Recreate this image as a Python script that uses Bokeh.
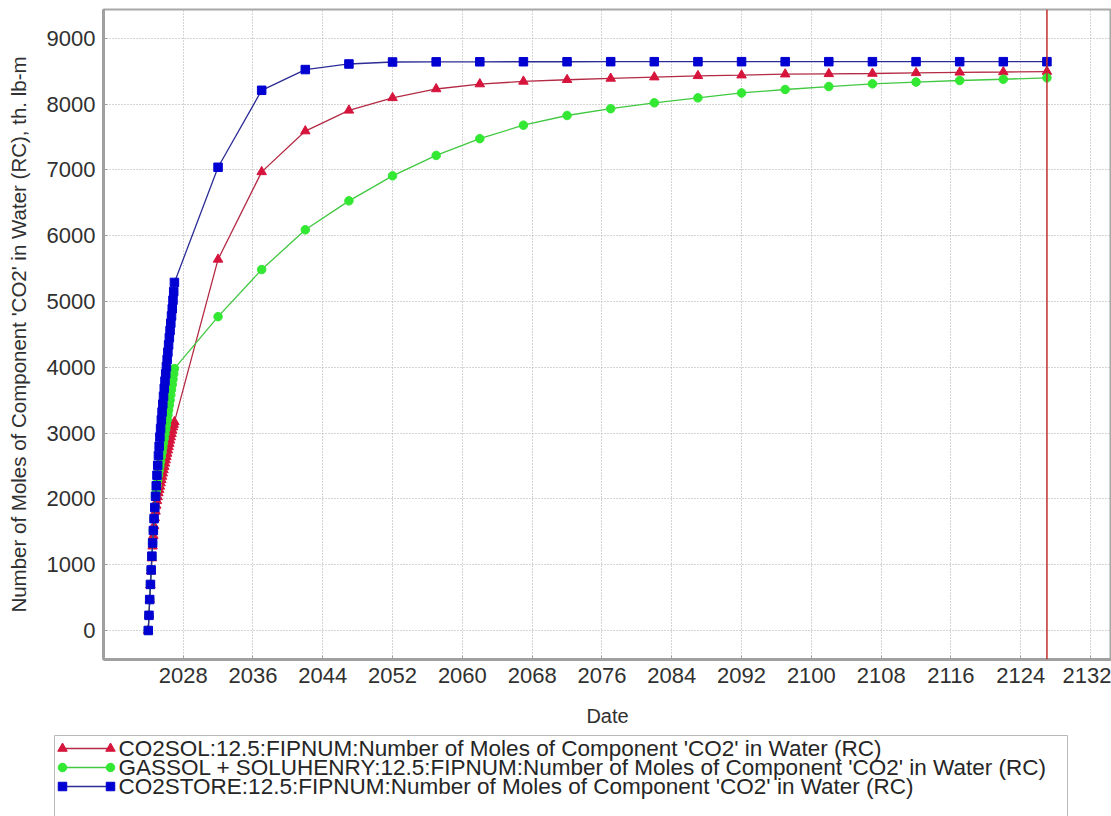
from bokeh.plotting import figure
from bokeh.models import Range1d, FixedTicker, Span
from bokeh.embed import file_html
from bokeh.resources import INLINE
from bokeh.core.properties import value

# ---------------------------------------------------------------------------
# Data: CO2 in water for FIPNUM region 12.5, thousand lb-mol (RC)
# Monthly report steps during injection (Jan 2024 .. Jan 2027),
# then one report every five years up to 2127.
# ---------------------------------------------------------------------------
months_early = list(range(37))
years_late = [2032, 2037, 2042, 2047, 2052, 2057, 2062, 2067, 2072, 2077,
              2082, 2087, 2092, 2097, 2102, 2107, 2112, 2117, 2122, 2127]

co2sol_early = [0, 230, 470, 690, 900, 1100, 1280, 1440, 1590, 1710, 1810,
                1900, 1970, 2030, 2090, 2140, 2190, 2240, 2290, 2340, 2390,
                2440, 2490, 2540, 2590, 2640, 2690, 2740, 2790, 2840, 2890,
                2940, 2990, 3040, 3090, 3130, 3170]
co2sol_late = [5640, 6970, 7590, 7905, 8095, 8230, 8305, 8345, 8370, 8390,
               8410, 8430, 8440, 8455, 8460, 8465, 8475, 8483, 8488, 8495]

gassol_early = [0, 230, 470, 700, 920, 1130, 1330, 1520, 1700, 1870, 2040,
                2120, 2200, 2280, 2360, 2430, 2500, 2570, 2640, 2710, 2780,
                2850, 2920, 2990, 3060, 3130, 3200, 3275, 3350, 3425, 3500,
                3580, 3660, 3740, 3820, 3900, 3980]
gassol_late = [4770, 5485, 6090, 6530, 6910, 7220, 7475, 7680, 7827, 7930,
               8020, 8095, 8170, 8222, 8267, 8308, 8335, 8359, 8378, 8400]

co2store_early = [0, 230, 470, 700, 920, 1130, 1330, 1520, 1700, 1870, 2040,
                  2200, 2360, 2510, 2660, 2800, 2940, 3070, 3200, 3320, 3440,
                  3560, 3680, 3790, 3900, 4010, 4120, 4230, 4340, 4450, 4560,
                  4670, 4780, 4890, 5020, 5150, 5290]
co2store_late = [7040, 8210, 8525, 8610, 8640, 8642, 8643, 8644, 8644, 8645,
                 8645, 8645, 8645, 8645, 8645, 8645, 8645, 8645, 8645, 8645]

series_names = [
    "CO2SOL:12.5:FIPNUM:Number of Moles of Component 'CO2' in Water (RC)",
    "GASSOL + SOLUHENRY:12.5:FIPNUM:Number of Moles of Component 'CO2' in Water (RC)",
    "CO2STORE:12.5:FIPNUM:Number of Moles of Component 'CO2' in Water (RC)",
]
x_ticks = [2028, 2036, 2044, 2052, 2060, 2068, 2076, 2084, 2092, 2100,
           2108, 2116, 2124, 2132]
y_ticks = [0, 1000, 2000, 3000, 4000, 5000, 6000, 7000, 8000, 9000]

# decimal-year time axis
dates = [2024 + m / 12 for m in months_early] + years_late
values = [co2sol_early + co2sol_late,
          gassol_early + gassol_late,
          co2store_early + co2store_late]

styles = [
    dict(marker="triangle", size=9.5, line="#b42a44", fill="#d6143c"),
    dict(marker="circle", size=8.5, line="#40c840", fill="#33e833"),
    dict(marker="square", size=8.5, line="#2c2c96", fill="#0000d2"),
]

FONT = "Liberation Sans"

p = figure(frame_width=1008, frame_height=650,
           x_range=Range1d(2018.87, 2134.4), y_range=Range1d(-441, 9438),
           output_backend="svg", toolbar_location=None,
           min_border_left=103, min_border_right=0,
           min_border_top=9, min_border_bottom=75)
p.background_fill_color = "white"
p.border_fill_color = "white"
p.outline_line_color = "#a8a8a8"
p.outline_line_width = 2

for ax in (p.xaxis[0], p.yaxis[0]):
    ax.axis_line_color = "#a0a0a0"
    ax.axis_line_width = 3
    ax.major_tick_in = 4
    ax.major_tick_out = 0
    ax.major_tick_line_color = "#a0a0a0"
    ax.minor_tick_line_color = None
    ax.major_label_text_font = FONT
    ax.major_label_text_font_size = "22px"
    ax.major_label_text_color = "#303030"
    ax.major_label_standoff = 8
    ax.axis_label_text_font = FONT
    ax.axis_label_text_font_style = "normal"
    ax.axis_label_text_color = "#303030"

p.xaxis.ticker = FixedTicker(ticks=x_ticks)
p.yaxis.ticker = FixedTicker(ticks=y_ticks)
p.xaxis.axis_label = "Date"
p.xaxis.axis_label_text_font_size = "20px"
p.xaxis.axis_label_standoff = 19
p.yaxis.axis_label = "Number of Moles of Component 'CO2' in Water (RC), th. lb-m"
p.yaxis.axis_label_text_font_size = "20.5px"
p.yaxis.axis_label_standoff = 14

for g in (p.xgrid[0], p.ygrid[0]):
    g.grid_line_color = "#aaaaaa"
    g.grid_line_dash = "1 2"
    g.grid_line_width = 1

# series: lines first, then markers
for vals, st in zip(values, styles):
    p.line(dates, vals, line_color=st["line"], line_width=1.3)
    p.scatter(dates, vals, marker=st["marker"], size=st["size"],
              fill_color=st["fill"], line_color=st["fill"])

# end-of-simulation marker
p.add_layout(Span(location=years_late[-1], dimension="height",
                  line_color="#c0302a", line_width=1.5))

# legend panel with marker-line-marker samples (pixel coordinates, y down)
LEG_H = 82
leg = figure(frame_width=1111, frame_height=LEG_H, x_range=Range1d(0, 1111),
             y_range=Range1d(LEG_H, 0), output_backend="svg",
             toolbar_location=None, min_border=0,
             min_border_left=0, min_border_right=0,
             min_border_top=0, min_border_bottom=0,
             x_axis_type=None, y_axis_type=None)
leg.grid.visible = False
leg.outline_line_color = None
leg.background_fill_color = "white"
leg.border_fill_color = "white"

leg.quad(left=54, right=1067, top=1, bottom=LEG_H + 5, fill_color="white",
         line_color="#b8b8b8", line_width=1)
row_y = [14, 33, 52]
for name, st, ry in zip(series_names, styles, row_y):
    leg.line([62, 110], [ry, ry], line_color=st["line"], line_width=1.3)
    leg.scatter([62, 110], [ry, ry], marker=st["marker"], size=st["size"],
                fill_color=st["fill"], line_color=st["fill"])
    leg.text([118], [ry], text=[name], text_font=value(FONT),
             text_font_size="22.5px", text_baseline="middle",
             text_color="#262626")

open("out.html", "w").write(file_html([p, leg], INLINE))
